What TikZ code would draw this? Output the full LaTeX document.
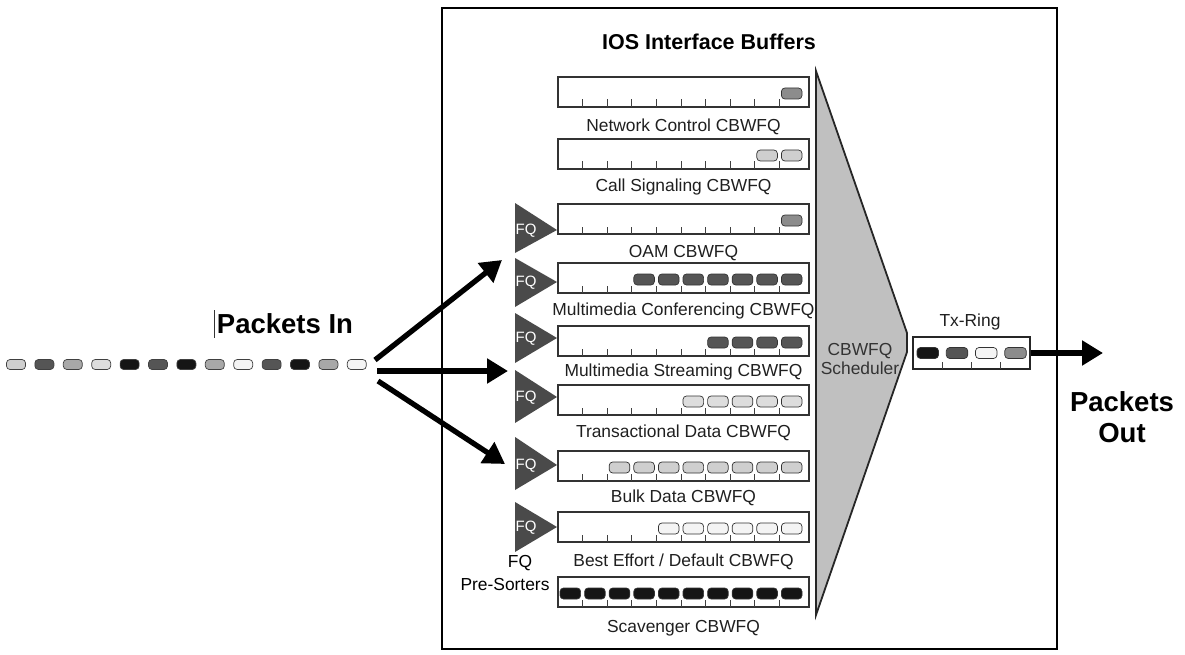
\documentclass[tikz,border=0pt]{standalone}
\usepackage{fontspec}
\setmainfont{Liberation Sans}
\usetikzlibrary{arrows.meta}
\definecolor{pk}{HTML}{151515}
\definecolor{pd}{HTML}{555555}
\definecolor{pm}{HTML}{8C8C8C}
\definecolor{pn}{HTML}{A8A8A8}
\definecolor{pl}{HTML}{CFCFCF}
\definecolor{pt}{HTML}{DDDDDD}
\definecolor{pw}{HTML}{F4F4F4}
\definecolor{sched}{HTML}{C0C0C0}
\definecolor{fqc}{HTML}{4A4A4A}
\begin{document}
\begin{tikzpicture}[x=1pt,y=-1pt,
  pkt/.style={draw=black!80, line width=0.7pt, rounded corners=3.5pt},
  ipkt/.style={draw=black!75, line width=0.7pt, rounded corners=3.5pt, minimum width=19pt, minimum height=10pt, inner sep=0pt},
  buf/.style={draw=black!80, line width=1.1pt, fill=white, minimum width=251pt, minimum height=30pt, inner sep=0pt},
  tickln/.style={draw=black!75, line width=0.7pt},
  lbl/.style={font=\fontsize{17.4}{18}\selectfont, text=black!88, inner sep=0pt},
  big/.style={font=\fontsize{27.5}{31}\selectfont\bfseries, align=center, inner sep=0pt},
  fat/.style={line width=5.3pt, -{Triangle[length=21pt,width=24pt]}},
  fqtext/.style={font=\fontsize{15}{16}\selectfont, text=white, inner sep=0pt}]
\useasboundingbox (0,0) rectangle (1185,655);

% outer box
\draw[line width=1.1pt] (442,8) rectangle (1057,649);
\node[font=\fontsize{21.5}{24}\selectfont\bfseries, inner sep=0pt] (title) at (709,42) {IOS Interface Buffers};

% scheduler
\draw[fill=sched, draw=black!85, line width=1.8pt, line join=miter]
  (816,71) -- (907,333) -- (907,352) -- (816,615) -- cycle;
\node[lbl, align=center, text=black!80, font=\fontsize{17.4}{18.5}\selectfont] (sch) at (860,359) {CBWFQ\\Scheduler};

% buffers
\foreach \nm/\ty/\n/\c/\txt/\ly in {
  nc/77/1/pm/{Network Control CBWFQ}/127,
  cs/139/2/pl/{Call Signaling CBWFQ}/187,
  oam/204/1/pm/{OAM CBWFQ}/253,
  mc/263/7/pd/{Multimedia Conferencing CBWFQ}/311,
  ms/326/4/pd/{Multimedia Streaming CBWFQ}/372,
  td/385/5/pt/{Transactional Data CBWFQ}/433,
  bd/451/8/pl/{Bulk Data CBWFQ}/498,
  be/512/6/pw/{Best Effort / Default CBWFQ}/562,
  sc/577/10/pk/{Scavenger CBWFQ}/628}{
  \node[buf] (\nm) at (683.5,\ty+15) {};
  \foreach \k in {1,...,9}
    \draw[tickln] ({558+24.6*\k},\ty+30) -- ++(0,-7.5);
  \foreach \k in {1,...,\n}
    \draw[pkt,fill=\c] ({558+24.6*(10-\k)+2},\ty+11) rectangle ++(20.6,11);
  \node[lbl] (\nm-l) at (683.5,\ly) {\txt};
}

% FQ pre-sorters
\foreach \a/\m/\b in {203/230/253, 258/282/307, 313/338/363, 370/397/423, 437/465/490, 502/527/552}{
  \fill[fqc] (515,\a) -- (557,\m) -- (515,\b) -- cycle;
  \node[fqtext] at (526,\m+1) {FQ};
}
\node[lbl, text=black] (fql) at (520,563) {FQ};
\node[lbl, text=black] (psl) at (505,585) {Pre-Sorters};

% packets in
\foreach \i/\c in {0/pl,1/pd,2/pn,3/pt,4/pk,5/pd,6/pk,7/pn,8/pw,9/pd,10/pk,11/pn,12/pw}
  \node[ipkt, fill=\c] (in\i) at ({16+28.4*\i},364.5) {};
\node[big] (pin) at (285,324) {Packets In};
\draw[line width=0.8pt, black!80] (214,310) -- (214,338);

\coordinate (s1) at (375,360);
\coordinate (e1) at (502,260);
\coordinate (s2) at (377,371);
\coordinate (e2) at (508,371);
\coordinate (s3) at (378,381);
\coordinate (e3) at (505,464);
\draw[fat] (s1) -- (e1);
\draw[fat] (s2) -- (e2);
\draw[fat] (s3) -- (e3);

% Tx ring
\node[draw=black!85, line width=1.1pt, minimum width=117pt, minimum height=32pt, inner sep=0pt, fill=white] (tx) at (971.5,353) {};
\foreach \k in {1,2,3}
  \draw[tickln] ({913+29.25*\k},369) -- ++(0,-7.5);
\foreach \k/\c in {0/pk,1/pd,2/pw,3/pm}
  \draw[pkt,fill=\c] ({913+29.25*\k+4},347.5) rectangle ++(21.5,11);
\node[lbl] (txl) at (970,322) {Tx-Ring};
\coordinate (outtip) at (1103,353);
\draw[fat] (tx.east) -- (outtip);
\node[big] (pout) at (1122,417) {Packets\\Out};
\end{tikzpicture}
\end{document}
